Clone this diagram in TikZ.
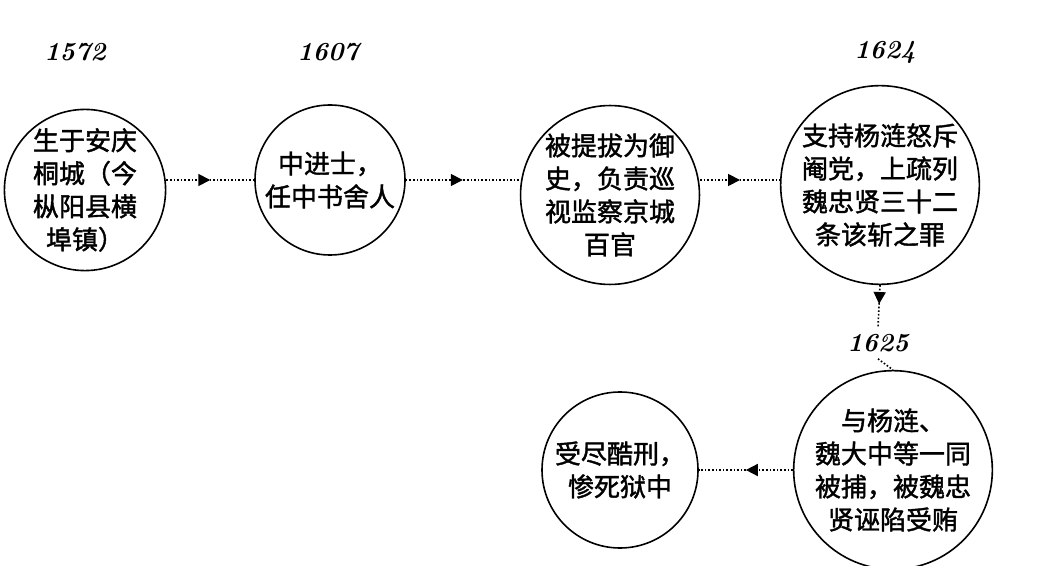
\documentclass[tikz,border=0pt]{standalone}
\usepackage{fontspec}
\newfontfamily\cjk{Noto Sans CJK SC}[FakeBold=1.5]
\usetikzlibrary{arrows.meta,decorations.markings}
\tikzset{
  event/.style = {draw, thick, circle, minimum size=#1, inner sep=0pt, align=center, font=\cjk\fontsize{13}{16.5}\selectfont},
  year/.style  = {font=\bfseries\itshape\fontsize{13}{15}\selectfont},
  link/.style  = {densely dotted, thick, postaction={decorate},
    decoration={markings, mark=at position #1 with {\arrow{Triangle[length=6pt,width=6pt]}}}},
}
\begin{document}
\begin{tikzpicture}[x=0.5pt,y=0.5pt]
\useasboundingbox (0,0) rectangle (1038,-566);
% years
\node[year] (y1572) at (75,-52) {1572};
\node[year] (y1607) at (328,-52) {1607};
\node[year] (y1624) at (885,-52) {1624};
\node[year] (y1625) at (878,-343) {1625};
% events
\node[event=80pt] (born) at (85,-190) {生于安庆\\桐城（今\\枞阳县横\\埠镇）};
\node[event=75pt] (exam) at (330,-180) {中进士，\\任中书舍人};
\node[event=80pt] (censor) at (610,-195) {被提拔为御\\史，负责巡\\视监察京城\\百官};
\node[event=86pt] (accuse) at (880,-185) {支持杨涟怒斥\\阉党，上疏列\\魏忠贤三十二\\条该斩之罪};
\node[event=86pt] (arrest) at (893,-470) {与杨涟、\\魏大中等一同\\被捕，被魏忠\\贤诬陷受贿};
\node[event=78pt] (death) at (620,-470) {受尽酷刑，\\惨死狱中};
% links
\draw[link=0.5] (born.east |- exam) -- (exam.west);
\draw[link=0.5] (exam.east) -- (censor.west |- exam);
\draw[link=0.5] (censor.east |- exam) -- (accuse.west |- exam);
\draw[link=0.45] (accuse.south) -- (y1625.north);
\draw[densely dotted, thick] (y1625.south) -- (arrest.north);
\draw[link=0.5] (arrest.west) -- (death.east);
\end{tikzpicture}
\end{document}
